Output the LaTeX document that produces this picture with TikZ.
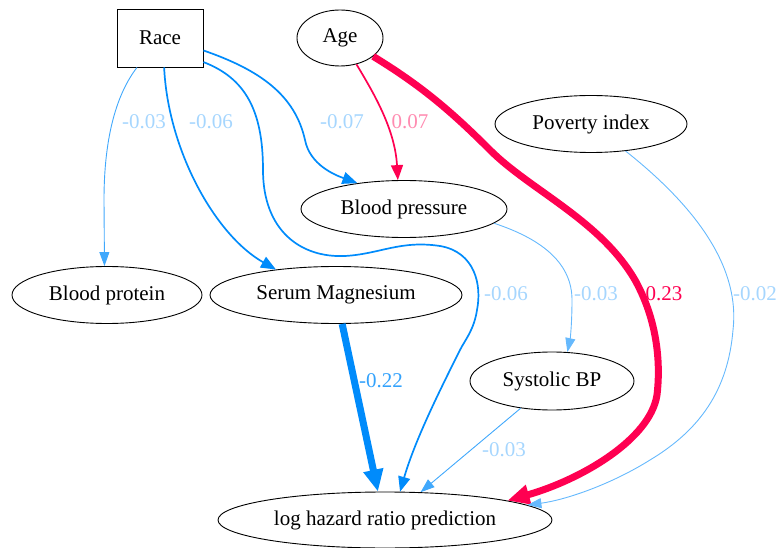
\documentclass[tikz,border=0pt]{standalone}
\usepackage{fontspec}
\setmainfont{Liberation Serif}
\usetikzlibrary{shapes.geometric,arrows.meta}
\definecolor{sblue}{HTML}{008BFB}
\definecolor{sred}{HTML}{FF0051}
\begin{document}
\begin{tikzpicture}[x=1pt,y=-1pt,
  every node/.style={font=\fontsize{21}{24}\selectfont},
  nodeell/.style={ellipse,draw,line width=0.9pt,inner sep=0pt},
  nodebox/.style={rectangle,draw,line width=0.9pt,inner sep=0pt,minimum width=86pt,minimum height=58pt},
  thinedge/.style={draw=sblue!75,line width=0.9pt,-{Triangle[length=14pt,width=10pt]},fill=sblue!75},
  midblue/.style={draw=sblue,line width=1.7pt,-{Triangle[length=15pt,width=12pt]}},
  midred/.style={draw=sred,line width=1.7pt,-{Triangle[length=15pt,width=12pt]}},
  thickblue/.style={draw=sblue,line width=7pt,-{Triangle[length=22pt,width=19pt]}},
  thickred/.style={draw=sred,line width=7pt,-{Triangle[length=22pt,width=19pt]}},
  lblue/.style={text=sblue!35,inner sep=0pt},
  lbluestrong/.style={text=sblue!80,inner sep=0pt},
  lred/.style={text=sred!45,inner sep=0pt},
  lredstrong/.style={text=sred,inner sep=0pt}]
\useasboundingbox (0,0) rectangle (777,548);
% nodes
\node[nodebox] (race) at (160,38) {Race};
\node[nodeell,minimum width=86pt,minimum height=56pt] (age) at (340,38) {Age};
\node[nodeell,minimum width=192pt,minimum height=57pt] (pov) at (591,124) {Poverty index};
\node[nodeell,minimum width=206pt,minimum height=57pt] (bp) at (404,209) {Blood pressure};
\node[nodeell,minimum width=190pt,minimum height=57pt] (bprot) at (107,295) {Blood protein};
\node[nodeell,minimum width=252pt,minimum height=57pt] (mg) at (336,295) {Serum Magnesium};
\node[nodeell,minimum width=164pt,minimum height=58pt] (sbp) at (552,381) {Systolic BP};
\node[nodeell,minimum width=334pt,minimum height=56pt] (lhr) at (385,520) {log hazard ratio prediction};
% edges
\draw[thinedge,fill=none] (race.232) .. controls (112,100) and (104,150) .. (104,200) -- (bprot.95);
\draw[midblue] (race.-82) .. controls (168,150) and (215,235) .. (mg.157);
\draw[midblue] (race.-29) .. controls (245,78) and (263,110) .. (263,170)
  .. controls (263,230) and (300,258) .. (345,256)
  .. controls (380,254) and (400,240) .. (440,246)
  .. controls (475,252) and (482,285) .. (477,310)
  .. controls (474,330) and (465,340) .. (460,350)
  .. controls (440,390) and (415,440) .. (lhr.62);
\draw[midblue] (race.-16) .. controls (260,70) and (295,95) .. (305,140) .. controls (310,165) and (335,175) .. (bp.151);
\draw[midred] (age.-58) .. controls (375,95) and (395,130) .. (bp.102);
\draw[thickred] (age.-29) .. controls (420,85) and (450,110) .. (490,150)
  .. controls (530,190) and (600,220) .. (635,280)
  .. controls (660,325) and (660,370) .. (657,395)
  .. controls (650,440) and (580,480) .. (lhr.9);
\draw[thinedge,fill=none,draw=sblue!60] (pov.-38) .. controls (700,210) and (740,270) .. (733,330)
  .. controls (728,390) and (700,430) .. (650,460)
  .. controls (610,485) and (565,500) .. (lhr.6);
\draw[thinedge,fill=none,draw=sblue!60] (bp.-9) .. controls (545,240) and (572,265) .. (572,300)
  .. controls (572,325) and (570,340) .. (sbp.62);
\draw[thickblue] (mg.-78) -- (lhr.104);
\draw[thinedge,fill=none] (sbp.221) -- (lhr.38);
% labels
\node[lblue] (l1) at (144,122) {-0.03};
\node[lblue] (l2) at (211,122) {-0.06};
\node[lblue] (l3) at (342,122) {-0.07};
\node[lred] (l4) at (410,122) {0.07};
\node[lblue] (l5) at (506,294) {-0.06};
\node[lblue] (l6) at (596,294) {-0.03};
\node[lredstrong] (l7) at (664,294) {0.23};
\node[lblue] (l8) at (755,294) {-0.02};
\node[lbluestrong] (l9) at (381,381) {-0.22};
\node[lblue] (l10) at (504,450) {-0.03};
\end{tikzpicture}
\end{document}
